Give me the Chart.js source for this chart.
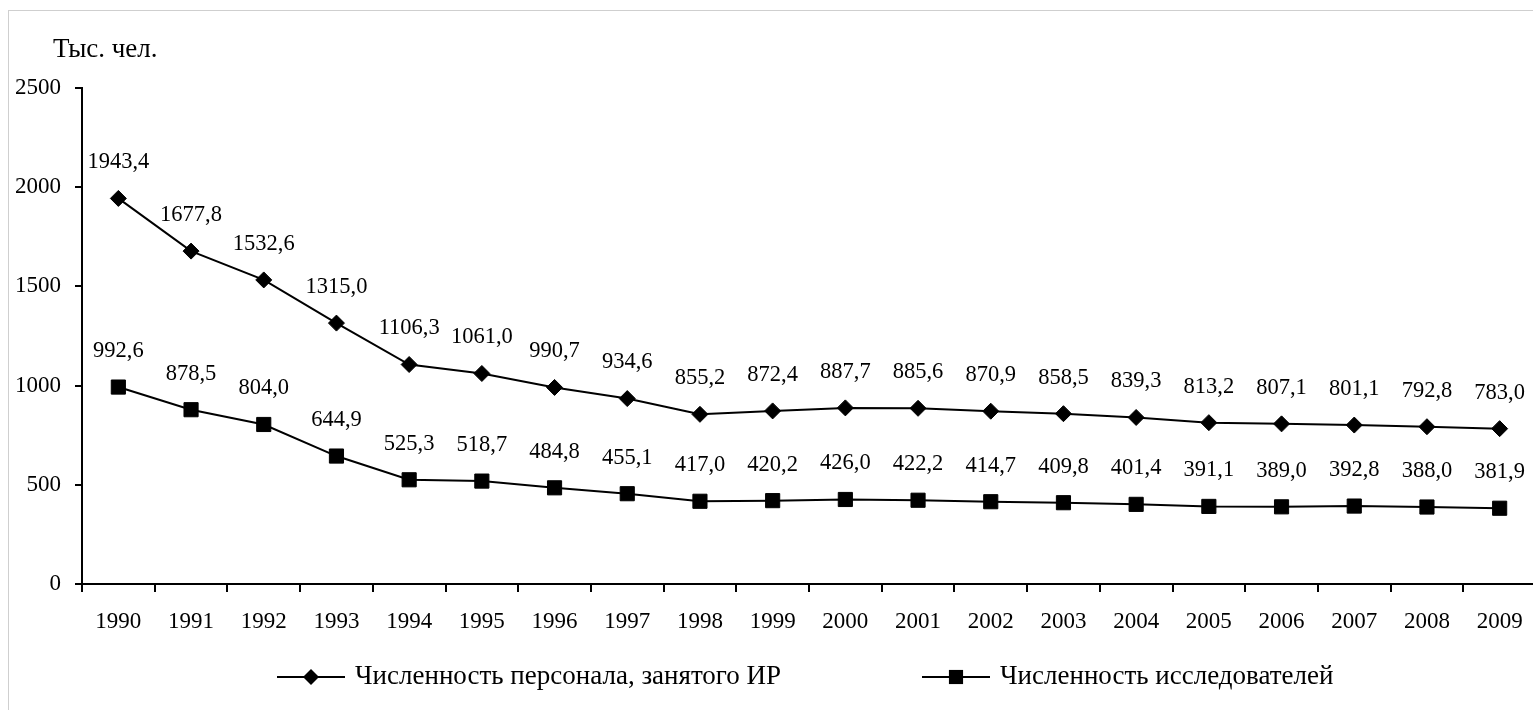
<!DOCTYPE html>
<html>
<head>
<meta charset="utf-8">
<script src="https://cdn.jsdelivr.net/npm/chart.js@4.4.1/dist/chart.umd.min.js"></script>
<style>
  html, body { margin: 0; padding: 0; background: #fff; overflow: hidden; width: 1533px; height: 710px; }
  #frame { position: absolute; left: 8px; top: 10px; width: 3000px; height: 3000px;
           border-left: 1px solid #cfcfcf; border-top: 1px solid #cfcfcf; }
  #c { position: absolute; left: 0; top: 0; }
</style>
</head>
<body>
<div id="frame"></div>
<canvas id="c" width="1550" height="710"></canvas>
<script>
// ---- data ----
const years = ['1990','1991','1992','1993','1994','1995','1996','1997','1998','1999',
               '2000','2001','2002','2003','2004','2005','2006','2007','2008','2009'];
const personnel = [1943.4, 1677.8, 1532.6, 1315.0, 1106.3, 1061.0, 990.7, 934.6, 855.2, 872.4,
                   887.7, 885.6, 870.9, 858.5, 839.3, 813.2, 807.1, 801.1, 792.8, 783.0];
const researchers = [992.6, 878.5, 804.0, 644.9, 525.3, 518.7, 484.8, 455.1, 417.0, 420.2,
                     426.0, 422.2, 414.7, 409.8, 401.4, 391.1, 389.0, 392.8, 388.0, 381.9];
const seriesNames = ['Численность персонала, занятого ИР', 'Численность исследователей'];
const yTicks = [0, 500, 1000, 1500, 2000, 2500];
const unitLabel = 'Тыс. чел.';

// ---- style ----
const FONT_FAMILY = '"Liberation Serif", "Times New Roman", serif';
const TICK_SIZE = 23;
const LABEL_SIZE = 22.5;
const BIG_SIZE = 27;

function fmt(v) { return v.toFixed(1).replace('.', ','); }

const labelsPlugin = {
  id: 'pointLabels',
  afterDatasetsDraw(chart) {
    const ctx = chart.ctx;
    ctx.save();
    ctx.font = LABEL_SIZE + 'px ' + FONT_FAMILY;
    ctx.fillStyle = '#000';
    ctx.textAlign = 'center';
    ctx.textBaseline = 'middle';
    chart.data.datasets.forEach((ds, i) => {
      const meta = chart.getDatasetMeta(i);
      meta.data.forEach((pt, j) => {
        ctx.fillText(fmt(ds.data[j]), pt.x, pt.y - 36);
      });
    });
    ctx.restore();
  }
};

const legendStarts = [277, 922];
const legendY = 677;
const customLegend = {
  id: 'customLegend',
  afterDraw(chart) {
    const ctx = chart.ctx;
    ctx.save();
    ctx.font = BIG_SIZE + 'px ' + FONT_FAMILY;
    ctx.fillStyle = '#000';
    ctx.textAlign = 'left';
    ctx.textBaseline = 'middle';
    ctx.fillText(unitLabel, 53, 50);
    chart.data.datasets.forEach((ds, i) => {
      const x0 = legendStarts[i];
      ctx.strokeStyle = '#000';
      ctx.lineWidth = 2;
      ctx.beginPath();
      ctx.moveTo(x0, legendY);
      ctx.lineTo(x0 + 68, legendY);
      ctx.stroke();
      ctx.fillStyle = '#000';
      ctx.beginPath();
      const cx = x0 + 34;
      if (ds.pointStyle === 'rectRot') {
        const r = ds.pointRadius;
        ctx.moveTo(cx - r, legendY); ctx.lineTo(cx, legendY - r);
        ctx.lineTo(cx + r, legendY); ctx.lineTo(cx, legendY + r);
        ctx.closePath();
      } else {
        const s = ds.pointRadius * Math.SQRT1_2;
        ctx.rect(cx - s, legendY - s, 2 * s, 2 * s);
      }
      ctx.fill();
      ctx.font = BIG_SIZE + 'px ' + FONT_FAMILY;
      ctx.textAlign = 'left';
      ctx.textBaseline = 'middle';
      ctx.fillText(ds.label, x0 + 78, legendY);
    });
    ctx.restore();
  }
};

new Chart(document.getElementById('c'), {
  type: 'line',
  data: {
    labels: years,
    datasets: [
      { label: seriesNames[0], data: personnel, borderColor: '#000', backgroundColor: '#000',
        borderWidth: 2, pointStyle: 'rectRot', pointRadius: 8, pointBorderWidth: 1,
        pointBackgroundColor: '#000', pointBorderColor: '#000', tension: 0, fill: false },
      { label: seriesNames[1], data: researchers, borderColor: '#000', backgroundColor: '#000',
        borderWidth: 2, pointStyle: 'rect', pointRadius: 10, pointBorderWidth: 1,
        pointBackgroundColor: '#000', pointBorderColor: '#000', tension: 0, fill: false }
    ]
  },
  options: {
    responsive: false,
    animation: false,
    devicePixelRatio: 1,
    layout: { padding: { top: 88, left: 0, right: 14, bottom: 66 } },
    plugins: {
      legend: { display: false },
      tooltip: { enabled: false },
      title: { display: false }
    },
    scales: {
      x: {
        type: 'category',
        offset: true,
        grid: { display: true, drawOnChartArea: false, drawTicks: true, tickLength: 8,
                offset: true, color: '#000', lineWidth: 2 },
        border: { display: true, color: '#000', width: 2 },
        ticks: { font: { family: FONT_FAMILY, size: TICK_SIZE }, color: '#000', padding: 16,
                 maxRotation: 0, autoSkip: false },
        afterFit(scale) { scale.height = 60; }
      },
      y: {
        min: 0, max: 2500,
        afterBuildTicks(scale) { scale.ticks = yTicks.map(v => ({ value: v })); },
        grid: { display: true, drawOnChartArea: false, drawTicks: true, tickLength: 7,
                color: '#000', lineWidth: 2 },
        border: { display: true, color: '#000', width: 2 },
        ticks: { font: { family: FONT_FAMILY, size: TICK_SIZE }, color: '#000', padding: 14,
                 callback: (v) => String(v) },
        afterFit(scale) { scale.width = 82; }
      }
    }
  },
  plugins: [labelsPlugin, customLegend]
});
</script>
</body>
</html>
